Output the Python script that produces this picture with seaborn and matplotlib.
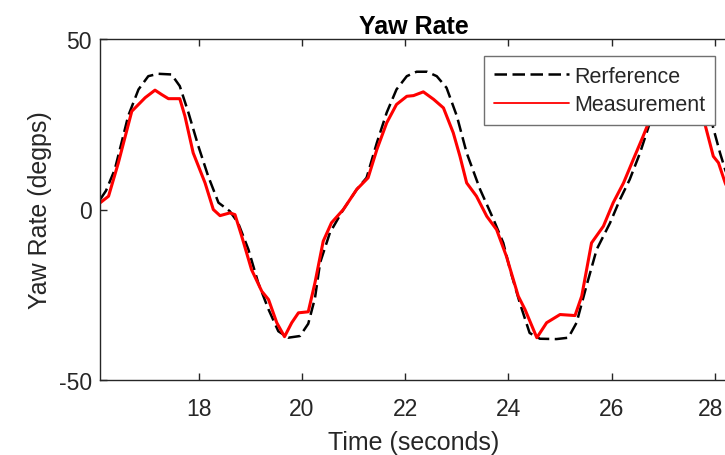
import matplotlib
matplotlib.use("Agg")
import matplotlib.pyplot as plt
import matplotlib.transforms as mtransforms
import seaborn as sns
import pandas as pd

# values
ref_time = [16.09, 16.20, 16.37, 16.50, 16.63, 16.83, 17.02, 17.21, 17.47, 17.63,
            17.80, 17.99, 18.18, 18.38, 18.60, 18.76, 18.96, 19.15, 19.35, 19.54,
            19.73, 19.96, 20.12, 20.25, 20.35, 20.54, 20.80, 21.06, 21.25, 21.45,
            21.64, 21.83, 22.03, 22.22, 22.42, 22.61, 22.80, 23.00, 23.19, 23.45,
            23.71, 23.90, 24.03, 24.22, 24.41, 24.61, 24.93, 25.16, 25.32, 25.51,
            25.71, 25.97, 26.16, 26.35, 26.55, 26.74, 26.95, 27.15, 27.35, 27.55,
            27.75, 27.95, 28.10, 28.20, 28.25]
ref_rate = [3.0, 5.5, 11.7, 19.5, 27.4, 35.2, 39.1, 39.8, 39.6, 36.2,
            28.3, 18.6, 9.8, 2.0, -0.5, -3.9, -11.7, -21.5, -29.3, -35.7,
            -37.6, -37.1, -33.5, -26.0, -15.6, -6.8, 0.0, 5.9, 9.3, 19.6,
            28.4, 35.2, 39.1, 40.4, 40.4, 39.1, 35.7, 27.4, 16.6, 5.9,
            -2.9, -9.8, -17.6, -27.4, -36.2, -37.9, -38.0, -37.6, -33.2, -22.5,
            -11.7, -3.9, 2.9, 8.8, 16.6, 25.4, 34.5, 39.5, 40.0, 38.0,
            32.0, 25.0, 16.6, 11.7, 9.5]

meas_time = [16.09, 16.25, 16.44, 16.70, 16.83, 16.96, 17.15, 17.28, 17.41, 17.63,
             17.73, 17.89, 18.12, 18.28, 18.41, 18.60, 18.70, 18.83, 19.02, 19.22,
             19.35, 19.51, 19.66, 19.80, 19.93, 20.12, 20.25, 20.41, 20.57, 20.80,
             21.06, 21.28, 21.45, 21.64, 21.83, 22.03, 22.16, 22.35, 22.55, 22.74,
             22.93, 23.06, 23.19, 23.38, 23.58, 23.77, 23.96, 24.19, 24.32, 24.55,
             24.74, 25.00, 25.29, 25.42, 25.61, 25.84, 26.03, 26.23, 26.42, 26.61,
             26.74, 26.95, 27.15, 27.35, 27.60, 27.81, 27.97, 28.07, 28.20, 28.25]
meas_rate = [2.0, 3.9, 13.7, 28.8, 30.8, 32.8, 35.0, 33.7, 32.5, 32.5,
             27.4, 16.6, 7.8, 0.0, -1.8, -1.0, -1.5, -7.8, -17.6, -24.0,
             -26.4, -33.2, -37.3, -33.2, -30.3, -30.0, -21.5, -9.3, -3.9, 0.0,
             5.9, 9.3, 17.6, 25.4, 30.8, 33.2, 33.4, 34.5, 32.3, 29.8,
             22.5, 15.6, 7.8, 3.9, -2.0, -5.9, -13.7, -25.4, -29.3, -37.6,
             -33.2, -30.8, -31.1, -25.4, -9.8, -4.9, 2.0, 7.8, 14.7, 21.5,
             26.4, 32.0, 35.0, 35.0, 31.0, 24.9, 15.6, 13.7, 7.8, 6.0]

series_names = ["Rerference", "Measurement"]
x_ticks = [18, 20, 22, 24, 26, 28]
y_ticks = [-50, 0, 50]

sns.set_style("white")
plt.rcParams["font.family"] = ["Liberation Sans", "DejaVu Sans"]
plt.rcParams["axes.unicode_minus"] = False

df_ref = pd.DataFrame({"t": ref_time, "v": ref_rate})
df_meas = pd.DataFrame({"t": meas_time, "v": meas_rate})

fig = plt.figure(figsize=(7.25, 4.56), dpi=100)
ax = fig.add_axes([100.3 / 725, 1 - 381 / 456, 626.7 / 725, 341 / 456])

sns.lineplot(data=df_ref, x="t", y="v", ax=ax, color="black", linewidth=1.8,
             linestyle=(0, (5, 2.2)), estimator=None, sort=False, label=series_names[0])
sns.lineplot(data=df_meas, x="t", y="v", ax=ax, color="#ff0000", linewidth=2.2,
             estimator=None, sort=False, label=series_names[1])

ax.set_xlim(16.09, 16.09 + 626.7 / 51.6)
ax.set_ylim(-50, 50)
ax.set_xticks(x_ticks)
ax.set_yticks(y_ticks)

dark = "#262626"
for s in ax.spines.values():
    s.set_color(dark)
    s.set_linewidth(1.0)
ax.tick_params(axis="x", pad=12.5)
ax.tick_params(axis="y", pad=6)
ax.tick_params(direction="in", length=5, width=1.0, colors=dark, labelsize=16.5,
               top=True, right=False, bottom=True, left=True)

# last tick label sits at the figure edge, nudge it left a bit
last = ax.xaxis.get_major_ticks()[-1].label1
last.set_transform(last.get_transform() + mtransforms.ScaledTranslation(-4 / 100, 0, fig.dpi_scale_trans))

ax.set_xlabel("Time (seconds)", fontsize=18, color=dark, labelpad=7)
ax.set_ylabel("Yaw Rate (degps)", fontsize=18, color=dark, labelpad=5)
ax.set_title("Yaw Rate", fontsize=18, fontweight="bold", color="black", pad=4)

leg = ax.legend(loc="upper right", bbox_to_anchor=(0.981, 0.950), borderaxespad=0,
                fontsize=15.5, frameon=True, fancybox=False, framealpha=1,
                edgecolor="#707070", handlelength=3.5, handletextpad=0.25,
                borderpad=0.45, labelspacing=0.35)
leg.get_frame().set_linewidth(1.0)
leg.get_lines()[1].set_linewidth(1.3)

fig.savefig("out.png", dpi=100)
